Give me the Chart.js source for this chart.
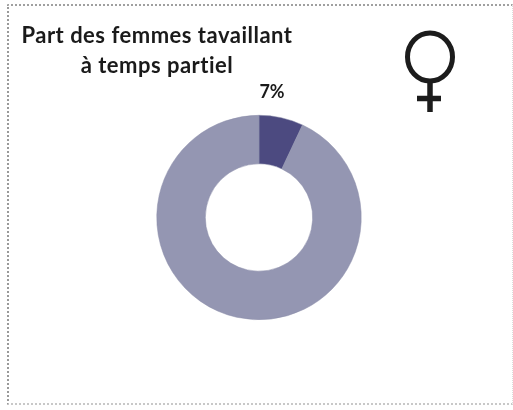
<!DOCTYPE html>
<html lang="fr">
<head>
<meta charset="utf-8">
<script src="https://cdn.jsdelivr.net/npm/chart.js@4"></script>
<style>
html,body{margin:0;padding:0;background:#fff;}
#wrap{position:relative;width:513px;height:410px;overflow:hidden;}
#frame{position:absolute;left:7px;top:4px;width:503px;height:397px;border:1px dotted #dcdcdc;border-left:2px dotted #999;border-top:2px dotted #a0a0a0;border-bottom:2px dotted #c8c8c8;box-sizing:content-box;}
canvas{position:absolute;left:0;top:0;}
#title{position:absolute;left:7px;top:20px;width:300px;text-align:center;font:bold 22px/30px Lato,sans-serif;letter-spacing:0.5px;color:#1a1a1a;}
#sym{position:absolute;left:400px;top:26px;}
</style>
</head>
<body>
<div id="wrap">
<div id="frame"></div>
<canvas id="c" width="513" height="410"></canvas>
<div id="title">Part des femmes tavaillant<br>à temps partiel</div>
<svg id="sym" width="60" height="92" viewBox="0 0 60 92">
<ellipse cx="30" cy="31" rx="22.500" ry="24" fill="none" stroke="#1c1c1c" stroke-width="5"/>
<path d="M30 55V86M17 72.500H41" fill="none" stroke="#1c1c1c" stroke-width="5.500"/>
</svg>
</div>
<script>
const categories = ["Temps partiel", "Temps plein"];
const seriesValues = [7, 93];
const seriesColors = ["#4c4a80", "#9496b2"];
const labelText = "7%";

const percentLabel = {
  id: "percentLabel",
  afterDatasetsDraw(chart) {
    const arc = chart.getDatasetMeta(0).data[0];
    const ctx = chart.ctx;
    ctx.save();
    ctx.font = "bold 18px Lato, sans-serif";
    ctx.fillStyle = "#1a1a1a";
    ctx.textAlign = "center";
    ctx.textBaseline = "middle";
    ctx.fillText(labelText, arc.x + 13, arc.y - 125);
    ctx.restore();
  }
};

new Chart(document.getElementById("c"), {
  type: "doughnut",
  data: {
    labels: categories,
    datasets: [{
      data: seriesValues,
      backgroundColor: seriesColors,
      borderColor: "#8a8ca8",
      borderWidth: 0.5
    }]
  },
  options: {
    responsive: false,
    animation: false,
    cutout: "52.5%",
    layout: { padding: { left: 156, right: 151, top: 115, bottom: 90 } },
    plugins: { legend: { display: false }, tooltip: { enabled: false }, title: { display: false } }
  },
  plugins: [percentLabel]
});
</script>
</body>
</html>
